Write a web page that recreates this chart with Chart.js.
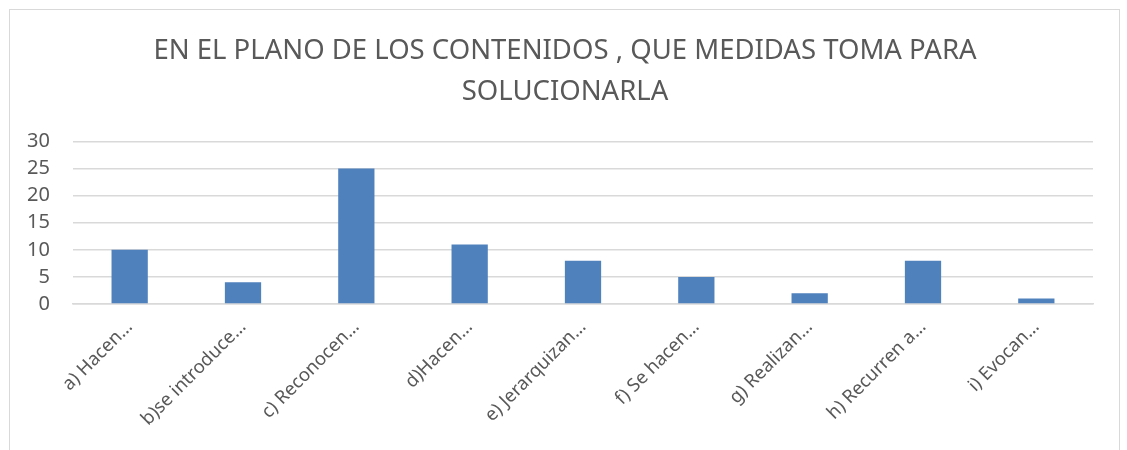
<!DOCTYPE html>
<html>
<head>
<meta charset="utf-8">
<script src="https://cdn.jsdelivr.net/npm/chart.js@4.4.1/dist/chart.umd.min.js"></script>
<style>
  html, body { margin: 0; padding: 0; background: #fff; overflow: hidden; }
  #wrap { position: absolute; left: 0; top: 0; width: 1127px; height: 450px; }
</style>
</head>
<body>
<div id="wrap"><canvas id="chart"></canvas></div>
<script>
const titleLines = ["EN EL PLANO DE LOS CONTENIDOS , QUE MEDIDAS TOMA PARA", "SOLUCIONARLA"];
const categories = [
  "a) Hacen…", "b)se introduce…", "c) Reconocen…", "d)Hacen…", "e) Jerarquizan…",
  "f) Se hacen…", "g) Realizan…", "h) Recurren a…", "i) Evocan…"
];
const counts = [10, 4, 25, 11, 8, 5, 2, 8, 1];
const yTicks = [0, 5, 10, 15, 20, 25, 30];

const textColor = "#595959";
const fontFamily = "'Noto Sans', 'Open Sans', sans-serif";

// outer frame, like the spreadsheet chart border (bottom edge is off-screen)
const framePlugin = {
  id: "frame",
  beforeDraw(chart) {
    const { ctx } = chart;
    ctx.save();
    ctx.strokeStyle = "#d9d9d9";
    ctx.lineWidth = 1;
    ctx.strokeRect(9.5, 9.5, 1110, 470);
    ctx.restore();
  }
};

// nudge the title's box so it centres a bit right of the canvas middle, like the original
const titleShiftPlugin = {
  id: "titleShift",
  afterLayout(chart) {
    const t = chart.titleBlock;
    if (!t) return;
    t.left = chart.chartArea.left - 36;
    t.right = chart.chartArea.right;
  }
};

new Chart(document.getElementById("chart"), {
  type: "bar",
  data: {
    labels: categories,
    datasets: [{
      data: counts,
      backgroundColor: "#4f81bd",
      borderWidth: 0,
      barPercentage: 0.64,
      categoryPercentage: 0.5
    }]
  },
  plugins: [framePlugin, titleShiftPlugin],
  options: {
    animation: false,
    responsive: true,
    maintainAspectRatio: false,
    layout: { padding: { left: 10, right: 34, top: 10, bottom: 0 } },
    plugins: {
      legend: { display: false },
      tooltip: { enabled: false },
      title: {
        display: true,
        text: titleLines,
        color: textColor,
        font: { family: fontFamily, size: 27.5, weight: "normal", lineHeight: 1.48 },
        padding: { top: 21, bottom: 29 }
      }
    },
    scales: {
      x: {
        grid: { display: false },
        border: { color: "#d9d9d9", width: 1.5 },
        ticks: {
          color: textColor,
          font: { family: fontFamily, size: 18.5 },
          minRotation: 45,
          maxRotation: 45,
          autoSkip: false,
          padding: 4
        },
        afterFit(scale) { scale.height = 146; }
      },
      y: {
        min: 0,
        max: 30,
        afterBuildTicks(scale) { scale.ticks = yTicks.map(v => ({ value: v })); },
        grid: { color: "#d9d9d9", lineWidth: 1.5, drawTicks: false },
        border: { display: false },
        ticks: {
          color: textColor,
          font: { family: fontFamily, size: 20 },
          padding: 23
        },
        afterFit(scale) { scale.width = 63; }
      }
    }
  }
});
</script>
</body>
</html>
